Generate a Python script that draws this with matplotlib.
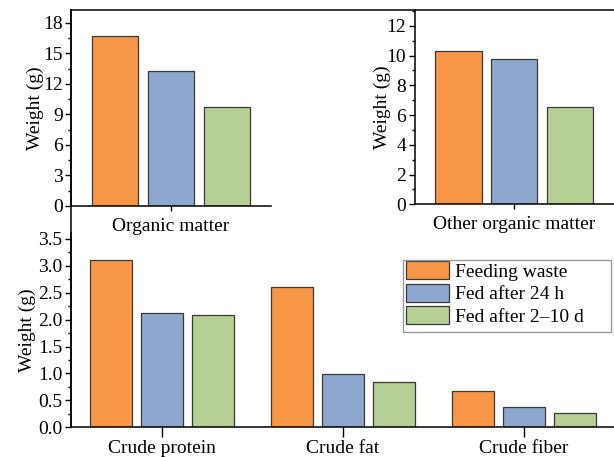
import matplotlib
matplotlib.use('Agg')
import matplotlib.pyplot as plt
from matplotlib.ticker import AutoMinorLocator, MultipleLocator, FormatStrFormatter
from matplotlib.patches import Rectangle
import numpy as np

plt.rcParams['font.family'] = ['Liberation Serif', 'DejaVu Serif']
plt.rcParams['axes.linewidth'] = 1.1

# data
series = ['Feeding waste', 'Fed after 24 h', 'Fed after 2\u201310 d']
colors = ['#F79646', '#8EA7CF', '#B5CF95']

organic_matter = [16.7, 13.3, 9.75]
other_organic = [10.28, 9.8, 6.55]

nutrients = ['Crude protein', 'Crude fat', 'Crude fiber']
feeding_waste = [3.10, 2.60, 0.675]
fed_24h = [2.12, 0.99, 0.38]
fed_2_10d = [2.08, 0.84, 0.26]

W, H = 614, 457
fig = plt.figure(figsize=(W / 100, H / 100), dpi=100)


def rect(x0, y_top, x1, y_bot):
    # pixel box -> figure fraction
    return [x0 / W, (H - y_bot) / H, (x1 - x0) / W, (y_bot - y_top) / H]


# outer frame: shared left and top line
frame = fig.add_axes(rect(71, 10, 614, 427.3), zorder=0)
frame.patch.set_visible(False)
for s in ['right', 'bottom']:
    frame.spines[s].set_visible(False)
frame.set_xticks([])
frame.set_yticks([])


def style(ax, xtick_len, xpad, lpad):
    ax.patch.set_visible(False)
    ax.spines['top'].set_visible(False)
    ax.spines['right'].set_visible(False)
    ax.yaxis.set_minor_locator(AutoMinorLocator(2))
    ax.tick_params(axis='y', which='major', direction='out', length=4, width=1, labelsize=14, pad=2)
    ax.tick_params(axis='y', which='minor', direction='out', length=2, width=1)
    ax.tick_params(axis='x', which='major', direction='out', length=xtick_len, width=1,
                   labelsize=14, pad=xpad)
    ax.set_ylabel('Weight (g)', fontsize=14, labelpad=lpad)


def single_group(ax, vals, label, ymax, step, lpad):
    pos = np.arange(len(vals)) - 1
    ax.bar(pos, vals, width=0.83, color=colors, edgecolor='#3a3a3a', linewidth=0.9)
    ax.set_xlim(-1.786, 1.786)
    ax.set_xticks([0])
    ax.set_xticklabels([label])
    ax.set_ylim(0, ymax)
    ax.yaxis.set_major_locator(MultipleLocator(step))
    style(ax, 3.5, 5, lpad)


ax1 = fig.add_axes(rect(71, 10, 271, 206), zorder=2)
single_group(ax1, organic_matter, 'Organic matter', 19.25, 3, -1)

ax2 = fig.add_axes(rect(414.5, 10, 614, 204.3), zorder=2)
single_group(ax2, other_organic, 'Other organic matter', 13.06, 2, -3)

ax3 = fig.add_axes(rect(71, 232.5, 614, 427.3), zorder=2)
x = np.arange(len(nutrients))
pitch, bw = 0.282, 0.236
for i, vals in enumerate([feeding_waste, fed_24h, fed_2_10d]):
    ax3.bar(x + (i - 1) * pitch, vals, width=bw, color=colors[i],
            edgecolor='#3a3a3a', linewidth=0.9, label=series[i])
ax3.set_xlim(-0.503, 2.497)
ax3.set_xticks(x)
ax3.set_xticklabels(nutrients)
ax3.set_ylim(0, 3.62)
ax3.yaxis.set_major_locator(MultipleLocator(0.5))
ax3.yaxis.set_major_formatter(FormatStrFormatter('%.1f'))
style(ax3, 7, 2, 2)

# legend without its own frame, box drawn separately (extra room on the right)
leg = ax3.legend(loc='upper left', bbox_to_anchor=(406 / W, (H - 261) / H),
                 bbox_transform=fig.transFigure, borderaxespad=0, borderpad=0,
                 fontsize=14, frameon=False, handlelength=2.2, handleheight=1.05,
                 handletextpad=0.3, labelspacing=0.15)
for p in leg.get_patches():
    p.set_edgecolor('#3a3a3a')
box = Rectangle((403 / W, (H - 331.7) / H), 208 / W, 71.7 / H, transform=fig.transFigure,
                fill=False, edgecolor='#9a9a9a', linewidth=1.0, zorder=5)
fig.add_artist(box)

fig.savefig('out.png', dpi=100)
